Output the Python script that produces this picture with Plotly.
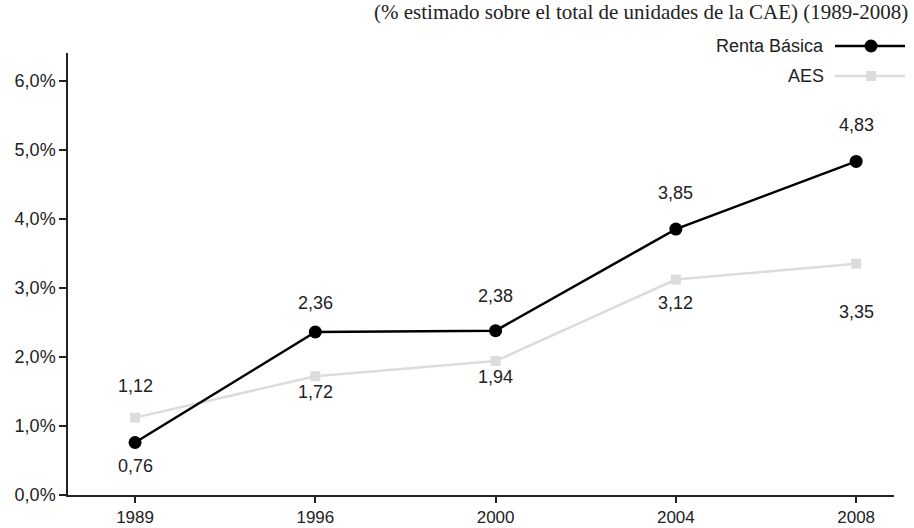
import plotly.graph_objects as go

# Survey years and estimated share of units (%)
years = ["1989", "1996", "2000", "2004", "2008"]
renta_basica = [0.76, 2.36, 2.38, 3.85, 4.83]
aes = [1.12, 1.72, 1.94, 3.12, 3.35]
series_names = ["Renta Básica", "AES"]
title_text = "(% estimado sobre el total de unidades de la CAE) (1989-2008)"
y_ticks = [0, 1, 2, 3, 4, 5, 6]
y_tick_labels = ["0,0%", "1,0%", "2,0%", "3,0%", "4,0%", "5,0%", "6,0%"]

# Vertical pixel offsets of the value labels (positive = above the point)
renta_label_shift = [-23, 29, 35, 36, 36]
aes_label_shift = [32, -16, -16, -23, -48]

BLACK = "#000000"
GREY = "#dcdcdc"
TEXT = "#222222"
SANS = "Liberation Sans"
SERIF = "Liberation Serif"

fig = go.Figure()
fig.add_trace(go.Scatter(
    x=years, y=aes, mode="lines+markers", name=series_names[1],
    line=dict(color=GREY, width=2.5),
    marker=dict(symbol="square", size=10, color=GREY),
    showlegend=False,
))
fig.add_trace(go.Scatter(
    x=years, y=renta_basica, mode="lines+markers", name=series_names[0],
    line=dict(color=BLACK, width=2.5),
    marker=dict(symbol="circle", size=13, color=BLACK),
    showlegend=False,
))


def fmt(v):
    return f"{v:.2f}".replace(".", ",")


annotations = []
# value labels; x given as category index on the category axis
for i, (v, s) in enumerate(zip(renta_basica, renta_label_shift)):
    annotations.append(dict(x=i, y=v, xref="x", yref="y", text=fmt(v), showarrow=False,
                            yshift=s, font=dict(family=SANS, size=18, color=TEXT)))
for i, (v, s) in enumerate(zip(aes, aes_label_shift)):
    annotations.append(dict(x=i, y=v, xref="x", yref="y", text=fmt(v), showarrow=False,
                            yshift=s, font=dict(family=SANS, size=18, color=TEXT)))

# Title in the top-right corner
annotations.append(dict(x=1.0194, y=1.0928, xref="paper", yref="paper", xanchor="right",
                        yanchor="middle", text=title_text, showarrow=False,
                        font=dict(family=SERIF, size=21, color=TEXT)))

# Hand-built legend: label on the left, line sample with marker on the right
leg_y = [1.0158, 0.948]
for name, ly in zip(series_names, leg_y):
    annotations.append(dict(x=0.9177, y=ly, xref="paper", yref="paper", xanchor="right",
                            yanchor="middle", text=name, showarrow=False,
                            font=dict(family=SANS, size=18, color=TEXT)))

shapes = [
    dict(type="line", xref="paper", yref="paper", x0=0.9286, x1=1.0133, y0=leg_y[0], y1=leg_y[0],
         line=dict(color=BLACK, width=2.5)),
    dict(type="circle", xref="paper", yref="paper", xsizemode="pixel", ysizemode="pixel",
         xanchor=0.9722, yanchor=leg_y[0], x0=-6.5, x1=6.5, y0=-6.5, y1=6.5,
         fillcolor=BLACK, line=dict(width=0)),
    dict(type="line", xref="paper", yref="paper", x0=0.9286, x1=1.0133, y0=leg_y[1], y1=leg_y[1],
         line=dict(color=GREY, width=2.5)),
    dict(type="rect", xref="paper", yref="paper", xsizemode="pixel", ysizemode="pixel",
         xanchor=0.9722, yanchor=leg_y[1], x0=-5, x1=5, y0=-5, y1=5,
         fillcolor=GREY, line=dict(width=0)),
]

fig.update_layout(
    width=914, height=528,
    margin=dict(l=68, r=20, t=53, b=33),
    paper_bgcolor="white", plot_bgcolor="white",
    font=dict(family=SANS, size=16, color=TEXT),
    showlegend=False,
    annotations=annotations,
    shapes=shapes,
)
fig.update_xaxes(
    type="category", range=[-0.372, 4.21], automargin=False,
    showline=True, linecolor=TEXT, linewidth=1.5,
    ticks="outside", ticklen=6, tickcolor=TEXT, tickwidth=1.5,
    showgrid=False, zeroline=False,
    tickfont=dict(family=SANS, size=17, color=TEXT),
)
fig.update_yaxes(
    range=[0, 6.4], tickmode="array", tickvals=y_ticks, ticktext=y_tick_labels,
    automargin=False,
    showline=True, linecolor=TEXT, linewidth=1.5,
    ticks="outside", ticklen=7, tickcolor=TEXT, tickwidth=1.5,
    showgrid=False, zeroline=False,
    tickfont=dict(family=SANS, size=18, color=TEXT),
)

fig.write_html("out.html")
